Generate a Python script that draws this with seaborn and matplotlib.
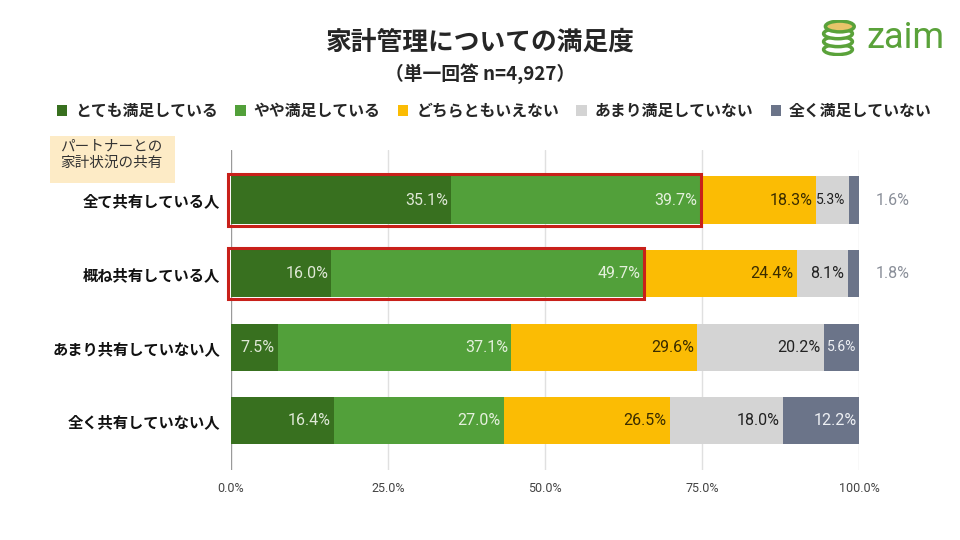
import numpy as np
import pandas as pd
import seaborn as sns
import matplotlib.pyplot as plt
from matplotlib.patches import Patch, Rectangle, Ellipse, FancyBboxPatch

# data
groups = ["全て共有している人", "概ね共有している人", "あまり共有していない人", "全く共有していない人"]
answers = ["とても満足している", "やや満足している", "どちらともいえない", "あまり満足していない", "全く満足していない"]
very_satisfied = [35.1, 16.0, 7.5, 16.4]
somewhat_satisfied = [39.7, 49.7, 37.1, 27.0]
neutral = [18.3, 24.4, 29.6, 26.5]
not_very_satisfied = [5.3, 8.1, 20.2, 18.0]
not_satisfied = [1.6, 1.8, 5.6, 12.2]
x_ticks = [0, 25, 50, 75, 100]
highlight_rows = [0, 1]

colors = ["#38701f", "#52a03a", "#fbbc04", "#d4d4d4", "#6b7489"]
text_colors = ["#dfe8d6", "#e4f0dc", "#3a2c00", "#222222", "#eef0f4"]

sns.set_style("white")
plt.rcParams["font.family"] = ["Noto Sans CJK JP", "DejaVu Sans"]
num_font = ["Roboto", "DejaVu Sans"]

values = np.array([very_satisfied, somewhat_satisfied, neutral, not_very_satisfied, not_satisfied])
cum = values.cumsum(axis=0)

fig = plt.figure(figsize=(9.6, 5.4), dpi=100)
ax = fig.add_axes([231 / 960, 1 - 470 / 540, 628 / 960, 320 / 540])

# stacked bars: draw cumulative totals from the widest down
for k in range(len(answers) - 1, -1, -1):
    df = pd.DataFrame({"group": groups, "value": cum[k]})
    sns.barplot(data=df, x="value", y="group", orient="h", color=colors[k],
                saturation=1, width=0.64, ax=ax, linewidth=0, zorder=2)

# segment labels
for i in range(len(groups)):
    for k in range(len(answers)):
        v = values[k, i]
        end = cum[k, i]
        if v < 3:
            ax.text(100 + 5.3, i, f"{v:.1f}%", ha="center", va="center",
                    color="#8a8f99", fontsize=11.5, family=num_font, zorder=5)
        else:
            fs = 10 if v < 6 else 11.5
            ax.text(end - 0.5, i, f"{v:.1f}%", ha="right", va="center",
                    color=text_colors[k], fontsize=fs, family=num_font, zorder=5)

# red highlight boxes around the satisfied part
for i in highlight_rows:
    w = very_satisfied[i] + somewhat_satisfied[i]
    ax.add_patch(Rectangle((-0.4, i - 0.35), w + 0.4, 0.70, fill=False,
                           edgecolor="#c8201a", linewidth=2.2, zorder=6, clip_on=False))

ax.set_xlim(0, 100)
ax.set_ylim(3.67, -0.68)
ax.set_xticks(x_ticks)
ax.set_xticklabels([f"{t:.1f}%" for t in x_ticks], family=num_font, fontsize=9, color="#444444")
ax.set_yticks(range(len(groups)))
ax.set_yticklabels(groups, fontsize=11, fontweight="bold", color="#111111")
ax.tick_params(axis="y", length=0, pad=8)
ax.tick_params(axis="x", length=0, pad=9)
ax.set_xlabel("")
ax.set_ylabel("")
for s in ax.spines.values():
    s.set_visible(False)
for t in x_ticks:
    ax.axvline(t, color="#9a9a9a" if t == 0 else "#e0e0e0", linewidth=1, zorder=1)

# title
fig.text(0.5, 1 - 42 / 540, "家計管理についての満足度", ha="center", va="center",
         fontsize=18.5, fontweight="bold")
fig.text(0.5, 1 - 74 / 540, "（単一回答 n=4,927）", ha="center", va="center",
         fontsize=13.5, fontweight="bold")

# legend
handles = [Patch(facecolor=c, edgecolor="none") for c in colors]
fig.legend(handles, answers, loc="center", bbox_to_anchor=(0.515, 1 - 111 / 540), ncol=5,
           frameon=False, handlelength=0.65, handleheight=0.65, handletextpad=0.5,
           columnspacing=1.1, prop={"weight": "bold", "size": 11.4})

# header box for the row labels
fig.patches.append(FancyBboxPatch((50 / 960, 1 - 183 / 540), 125 / 960, 47 / 540,
                                  boxstyle="square,pad=0", facecolor="#fdebc6",
                                  edgecolor="none", transform=fig.transFigure))
fig.text(60 / 960, 1 - 155 / 540, "パートナーとの\n家計状況の共有", ha="left", va="center",
         fontsize=10.5, color="#333333", linespacing=1.2)

# zaim logo
fig.text(866 / 960, 1 - 38 / 540, "zaim", ha="left", va="center", fontsize=26,
         color="#5aa23a", family=["Roboto", "DejaVu Sans"])
lax = fig.add_axes([820 / 960, 1 - 56 / 540, 36 / 960, 36 / 540])
lax.set_xlim(0, 1)
lax.set_ylim(0, 1)
lax.axis("off")
for yy in [0.18, 0.40, 0.62]:
    lax.add_patch(Ellipse((0.5, yy), 0.8, 0.28, facecolor="white", edgecolor="#5aa23a", linewidth=2.5))
lax.add_patch(Ellipse((0.55, 0.82), 0.8, 0.3, facecolor="#e8c46a", edgecolor="#5aa23a", linewidth=2.5))

fig.savefig("out.png", dpi=100)
